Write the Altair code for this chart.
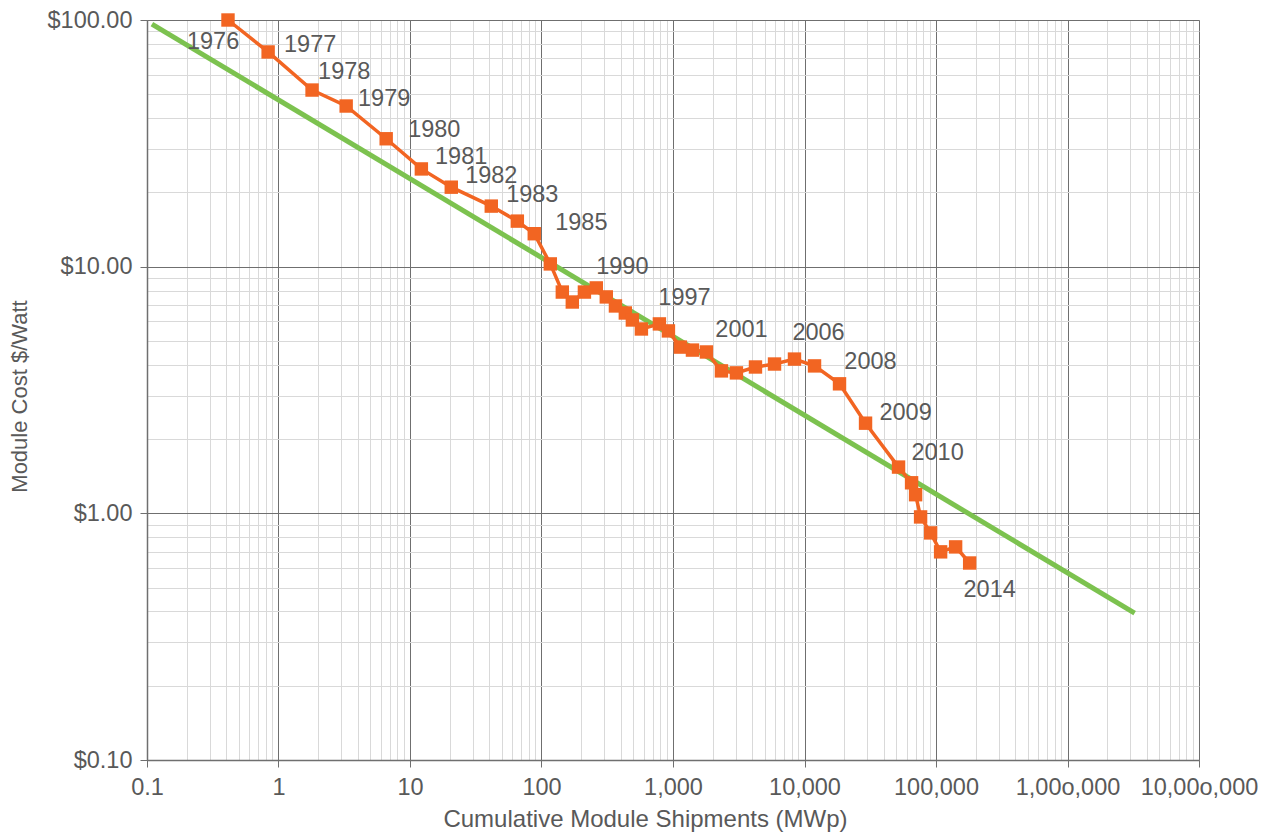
import altair as alt
import pandas as pd

# ---- data ----
ship_mwp = [0.413, 0.834, 1.80, 3.27, 6.59, 12.2, 20.6, 41.5, 65.5, 88.1,
            116.7, 144, 171.5, 212, 261, 311, 365, 434, 491, 575,
            788, 923, 1138, 1406, 1795, 2335, 3036, 4238, 5915, 8390,
            11920, 18460, 29120, 51900, 65200, 69950, 76350, 91000, 108400,
            141000, 180300]
cost_usd = [100.0, 74.2, 52.0, 44.8, 33.0, 24.9, 21.0, 17.6, 15.3, 13.6,
            10.26, 7.89, 7.19, 7.89, 8.20, 7.54, 6.93, 6.49, 6.08, 5.59,
            5.86, 5.49, 4.72, 4.59, 4.51, 3.78, 3.71, 3.92, 4.03, 4.22,
            3.96, 3.35, 2.32, 1.54, 1.33, 1.19, 0.967, 0.833, 0.698,
            0.731, 0.629]

trend_x = [0.109, 3.24e6]
trend_y = [96.3, 0.394]

year_labels = ["1976", "1977", "1978", "1979", "1980", "1981", "1982", "1983",
               "1985", "1990", "1997", "2001", "2006", "2008", "2009", "2010", "2014"]
label_x = [0.318, 1.74, 3.16, 6.36, 15.3, 24.5, 41.5, 85.1,
           201, 412, 1222, 3319, 12790, 31770, 58740, 102800, 255900]
label_y = [81.4, 79.2, 61.5, 47.8, 35.8, 27.8, 23.3, 19.5,
           15.0, 9.97, 7.46, 5.54, 5.38, 4.11, 2.55, 1.76, 0.489]

x_major = [0.1, 1, 10, 100, 1000, 10000, 100000, 1000000, 10000000]
x_major_text = ["0.1", "1", "10", "100", "1,000", "10,000", "100,000", "1,00o,000", "10,00o,000"]
y_major = [0.1, 1, 10, 100]
y_major_text = ["$0.10", "$1.00", "$10.00", "$100.00"]

x_title = "Cumulative Module Shipments (MWp)"
y_title = "Module Cost $/Watt"

# ---- helpers ----
def with_minors(majors):
    vals = []
    for i, m in enumerate(majors):
        if i < len(majors) - 1:
            vals += [m * k for k in range(1, 10)]
        else:
            vals.append(m)
    return vals

def label_expr(majors, texts):
    expr = "''"
    for m, t in zip(reversed(majors), reversed(texts)):
        expr = f"abs(datum.value - {m}) < {m}*1e-6 ? '{t}' : ({expr})"
    return expr

is_major = "abs(log(datum.value)/LN10 - round(log(datum.value)/LN10)) < 1e-6"

TXT = "#595959"
FONT = "Liberation Sans"

x_scale = alt.Scale(type="log", domain=[0.1, 1e7], nice=False)
y_scale = alt.Scale(type="log", domain=[0.1, 100], nice=False)

x_axis = alt.Axis(
    values=with_minors(x_major), labelExpr=label_expr(x_major, x_major_text),
    title=x_title, titleX=498, titleY=66, titleBaseline="alphabetic", titleAlign="center",
    titleFont=FONT, titleFontSize=24, titleFontWeight="normal", titleColor=TXT,
    labelFont=FONT, labelFontSize=23.5, labelColor=TXT, labelPadding=8, labelFlush=False,
    labelOverlap=False,
    tickSize=7, tickColor="#6f6f6f",
    tickOpacity={"condition": {"test": is_major, "value": 1}, "value": 0},
    gridColor={"condition": {"test": is_major, "value": "#6f6f6f"}, "value": "#d9d9d9"},
    gridWidth=1, domainColor="#6f6f6f", domainWidth=1.5,
)
y_axis = alt.Axis(
    values=with_minors(y_major), labelExpr=label_expr(y_major, y_major_text),
    title=y_title, titleX=-128, titleY=376, titleBaseline="middle", titleAlign="center",
    titleAngle=270,
    titleFont=FONT, titleFontSize=22, titleFontWeight="normal", titleColor=TXT,
    labelFont=FONT, labelFontSize=23.5, labelColor=TXT, labelPadding=8, labelFlush=False,
    labelOverlap=False, labelBaseline="middle",
    tickSize=7, tickColor="#6f6f6f",
    tickOpacity={"condition": {"test": is_major, "value": 1}, "value": 0},
    gridColor={"condition": {"test": is_major, "value": "#6f6f6f"}, "value": "#d9d9d9"},
    gridWidth=1, domainColor="#6f6f6f", domainWidth=1.5,
)

pts = pd.DataFrame({"x": ship_mwp, "y": cost_usd, "i": list(range(len(ship_mwp)))})
trend = pd.DataFrame({"x": trend_x, "y": trend_y})
labs = pd.DataFrame({"x": label_x, "y": label_y, "t": year_labels})

trend_line = alt.Chart(trend).mark_line(color="#7cc24f", strokeWidth=5, clip=True).encode(
    x=alt.X("x:Q", scale=x_scale, axis=x_axis),
    y=alt.Y("y:Q", scale=y_scale, axis=y_axis),
)
orange_line = alt.Chart(pts).mark_line(color="#f26522", strokeWidth=3.5).encode(
    x=alt.X("x:Q", scale=x_scale), y=alt.Y("y:Q", scale=y_scale), order="i:Q"
)
squares = alt.Chart(pts).mark_square(color="#f26522", size=180, opacity=1).encode(
    x=alt.X("x:Q", scale=x_scale), y=alt.Y("y:Q", scale=y_scale)
)
texts = alt.Chart(labs).mark_text(font=FONT, fontSize=23.5, color=TXT, align="center",
                                  baseline="middle").encode(
    x=alt.X("x:Q", scale=x_scale), y=alt.Y("y:Q", scale=y_scale), text="t:N"
)

chart = alt.layer(trend_line, orange_line, squares, texts).properties(
    width=1052, height=740,
    autosize=alt.AutoSizeParams(type="none"),
    padding={"left": 139, "top": 12, "right": 64, "bottom": 72},
).configure_view(stroke=None).configure(background="white")

chart.save("out.html", embed_options={"renderer": "svg", "actions": False})
